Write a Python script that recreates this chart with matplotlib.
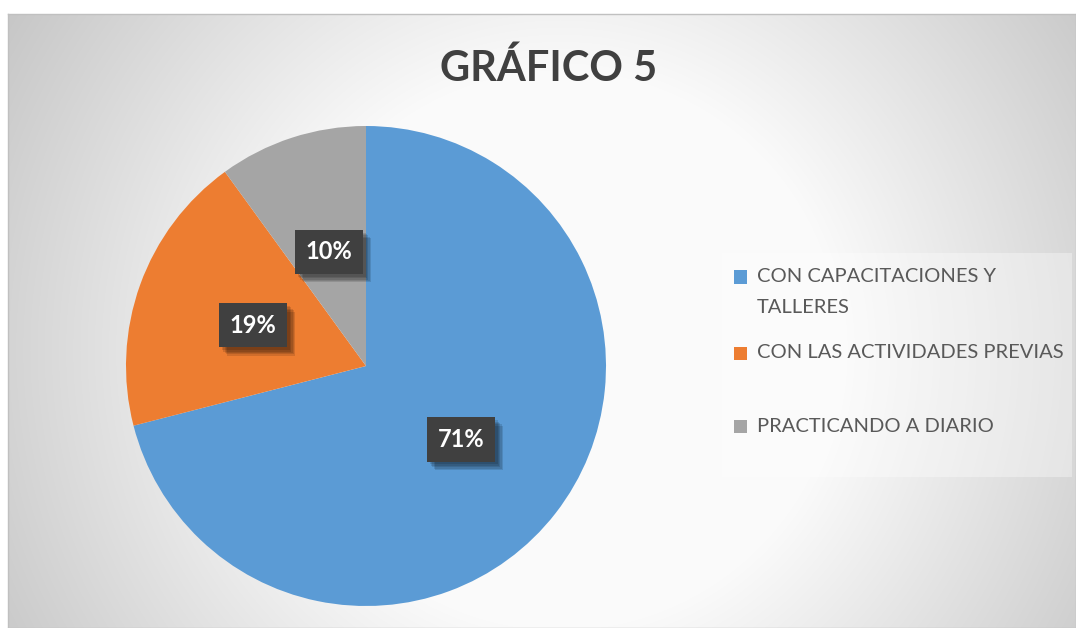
import numpy as np
import matplotlib.pyplot as plt
import matplotlib.patheffects as pe
from matplotlib.patches import Rectangle

plt.rcParams['font.family'] = ['Lato', 'DejaVu Sans']

title = 'GRÁFICO 5'
labels = ['CON CAPACITACIONES Y\nTALLERES', 'CON LAS ACTIVIDADES PREVIAS', 'PRACTICANDO A DIARIO']
values = [71, 19, 10]
colors = ['#5B9BD5', '#ED7D31', '#A5A5A5']

W, H = 1076, 628
fig = plt.figure(figsize=(W / 100, H / 100), dpi=100)
fig.patch.set_facecolor('white')

# chart area with radial gray gradient
x0, y0 = 8, 14
bg = fig.add_axes([x0 / W, 0, 1 - x0 / W, 1 - y0 / H])
yy, xx = np.mgrid[y0:H, x0:W]
d = np.hypot(xx - 560, yy - 350)
v = 250 - 0.14 * np.clip(d - 280, 0, None)
v = np.clip(v, 190, 252) / 255
bg.imshow(np.dstack([v, v, v]), aspect='auto', interpolation='bilinear')
bg.set_xticks([])
bg.set_yticks([])
for s in bg.spines.values():
    s.set_color('#c0c0c0')
    s.set_linewidth(1)

# pie
R = 240
cx, cy = 366, 366
ax = fig.add_axes([(cx - R) / W, (H - cy - R) / H, 2 * R / W, 2 * R / H])
wedges, texts, autotexts = ax.pie(values, colors=colors, startangle=90, counterclock=False,
                                  autopct='%1.0f%%', pctdistance=0.5,
                                  wedgeprops=dict(linewidth=0),
                                  textprops=dict(color='white', fontsize=17, fontweight='bold'))
ax.set_xlim(-1, 1)
ax.set_ylim(-1, 1)
# soft shadow: several offset layers
shadow = [pe.withSimplePatchShadow(offset=(o, -o), shadow_rgbFace='black', alpha=0.12)
          for o in (6, 5, 4, 3, 2)]
for t in autotexts:
    t.set_bbox(dict(boxstyle='square,pad=0.45', facecolor='#404040', edgecolor='none'))
    t.get_bbox_patch().set_path_effects(shadow + [pe.Normal()])

# title
fig.text(549 / W, 1 - 68 / H, title, ha='center', va='center', fontsize=30,
         fontweight='bold', color='#404040')

# legend box
fig.patches.append(Rectangle((722 / W, 1 - 477 / H), 350 / W, 224 / H, transform=fig.transFigure,
                             facecolor='white', alpha=0.35, edgecolor='none'))
rows = [277, 353, 426]
for lab, col, ry in zip(labels, colors, rows):
    fig.patches.append(Rectangle((734 / W, 1 - (ry + 6.5) / H), 13 / W, 13 / H,
                                 transform=fig.transFigure, facecolor=col, edgecolor='none'))
    for k, line in enumerate(lab.split('\n')):
        fig.text(757 / W, 1 - (ry + 30 * k) / H, line, ha='left', va='center',
                 fontsize=14.5, color='#595959')

fig.savefig('out.png', dpi=100)
